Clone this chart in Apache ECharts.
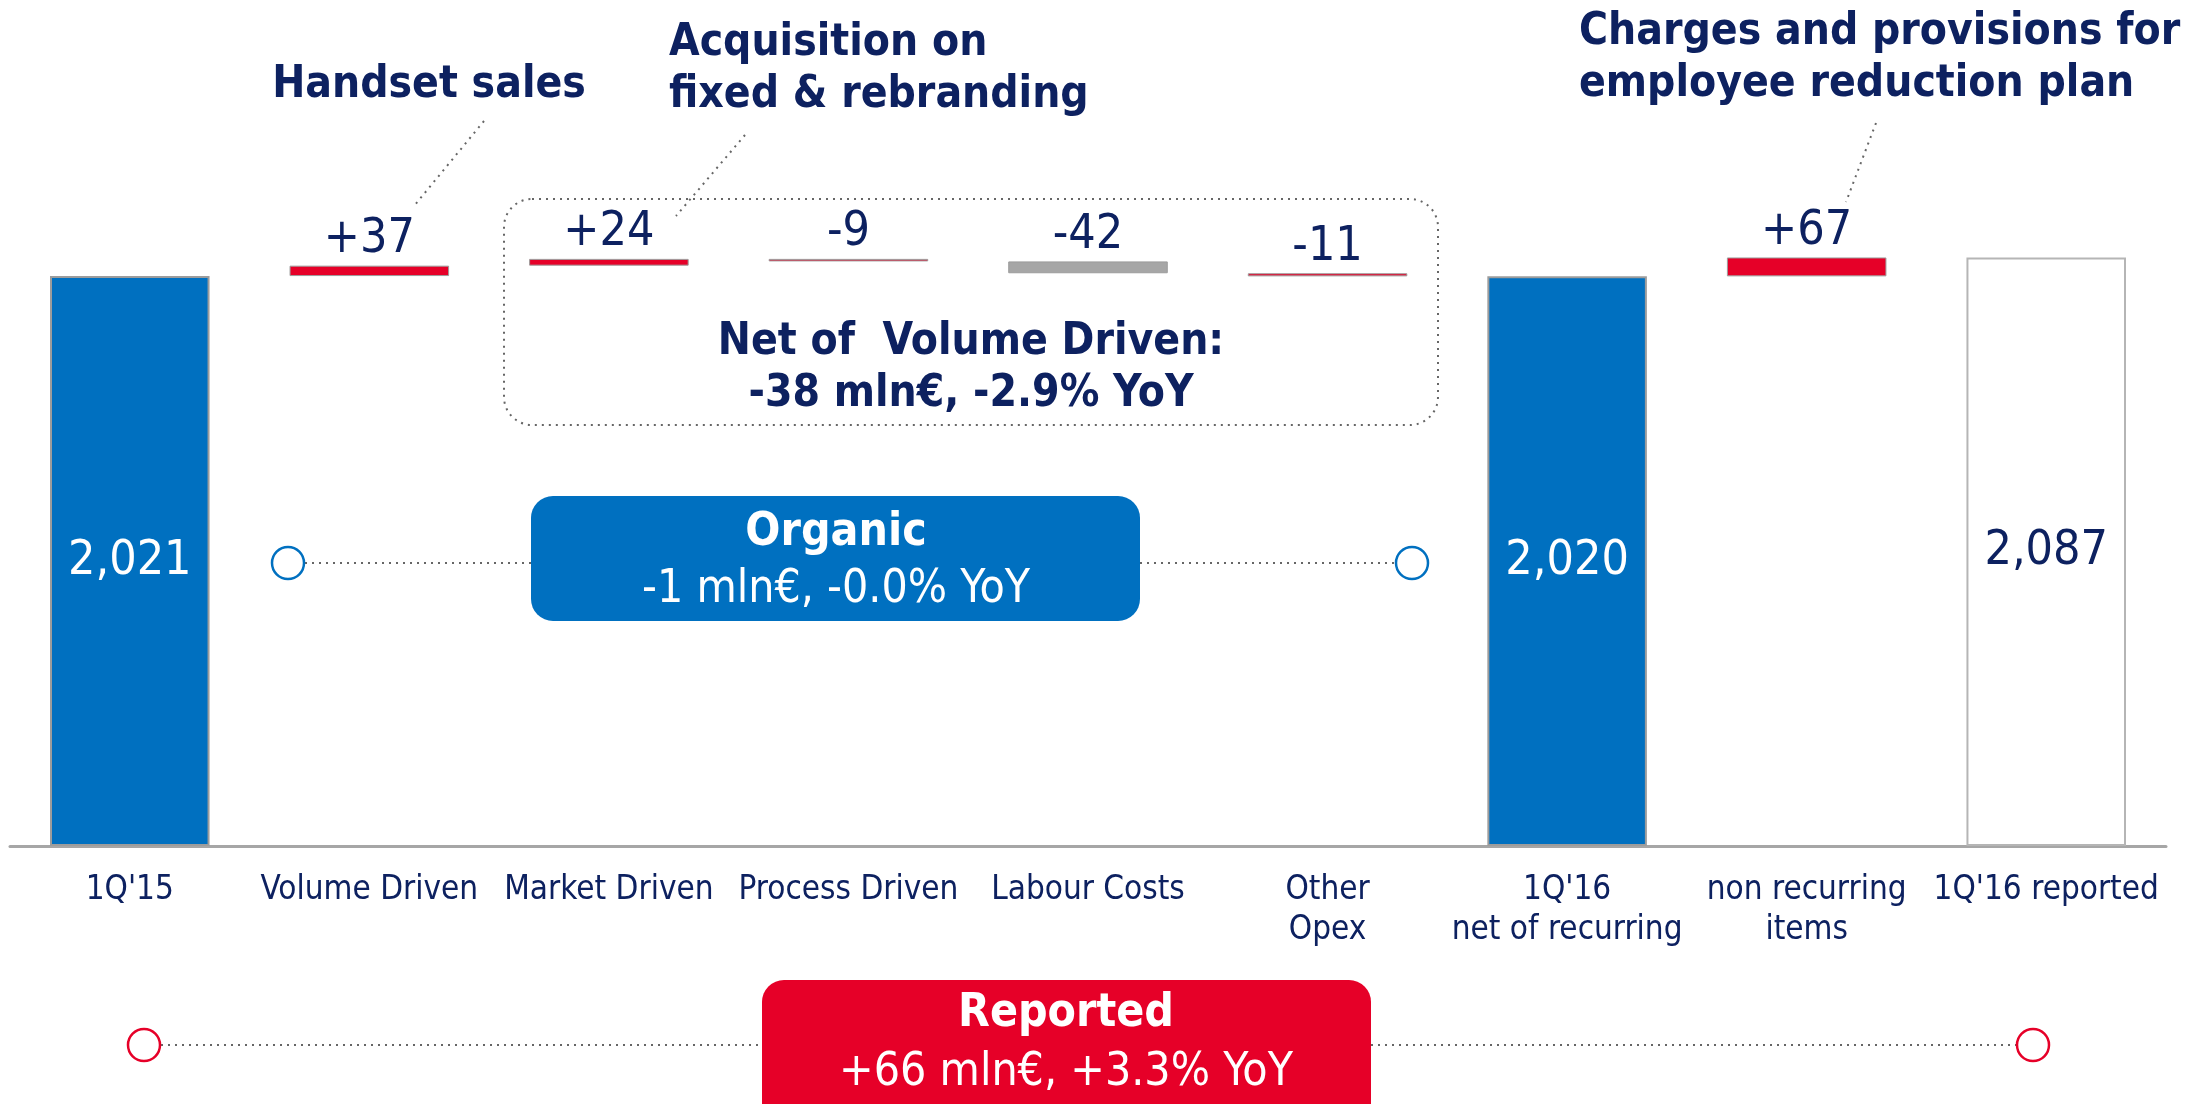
<!DOCTYPE html>
<html>
<head>
<meta charset="utf-8">
<script src="https://cdn.jsdelivr.net/npm/echarts@6/dist/echarts.min.js"></script>
<style>
  html, body { margin: 0; padding: 0; background: #fff; }
  #chart { width: 2185px; height: 1104px; }
</style>
</head>
<body>
<div id="chart"></div>
<script>
// categories and bridge steps (mln€)
var categories = ["1Q'15", 'Volume Driven', 'Market Driven', 'Process Driven', 'Labour Costs',
    'Other\nOpex', "1Q'16\nnet of recurring", 'non recurring\nitems', "1Q'16 reported"];
var steps = [2021, 37, 24, -9, -42, -11, 2020, 67, 2087];
var isTotal = [true, false, false, false, false, false, true, false, true];
var barColors = ['#0070C0', '#E60028', '#E60028', '#E60028', '#A6A6A6', '#E60028', '#0070C0', '#E60028', '#FFFFFF'];

var NAVY = '#0D2160';
var FONT = "'Liberation Sans Narrow', 'DejaVu Sans Condensed', 'Noto Sans', sans-serif";

// invisible base + visible part of each bar
var baseData = [];
var barData = [];
var running = 0;
for (var i = 0; i < steps.length; i++) {
    var v = steps[i];
    var total = isTotal[i];
    var base, h;
    if (total) {
        base = 0;
        h = v;
        running = v;
    } else {
        base = v >= 0 ? running : running + v;
        h = Math.abs(v);
        running += v;
    }
    baseData.push(base);
    var lbl = total ? v.toLocaleString('en-US') : (v > 0 ? '+' + v : String(v));
    barData.push({
        value: h,
        itemStyle: {
            color: barColors[i],
            borderColor: total && barColors[i] === '#FFFFFF' ? '#B5B5B5' : '#9C9C9C',
            borderWidth: total ? 2 : 1
        },
        label: {
            show: true,
            formatter: lbl,
            position: total ? 'inside' : 'top',
            distance: 2,
            color: total && barColors[i] !== '#FFFFFF' ? '#FFFFFF' : NAVY,
            fontSize: 48,
            fontFamily: FONT
        }
    });
}

var dotted = {stroke: '#666', lineWidth: 2, lineDash: [2, 5], fill: null};

function txt(x, y, s, size, weight, color, align) {
    return {
        type: 'text', x: x, y: y, z: 20,
        style: {
            text: s, fontSize: size, fontWeight: weight, fill: color, fontFamily: FONT,
            textAlign: align || 'center', textVerticalAlign: 'middle', lineHeight: 52
        }
    };
}

var chart = echarts.init(document.getElementById('chart'));
var option = {
    animation: false,
    grid: {left: 10, right: 19, top: 0, bottom: 258},
    xAxis: {
        type: 'category',
        data: categories,
        axisLine: {lineStyle: {color: '#A6A6A6', width: 3}},
        axisTick: {show: false},
        axisLabel: {color: NAVY, fontSize: 33, lineHeight: 40, margin: 24, fontFamily: FONT, interval: 0}
    },
    yAxis: {type: 'value', min: 0, max: 3000, show: false},
    series: [
        {
            type: 'bar', stack: 'w', barWidth: '66.6%', silent: true,
            itemStyle: {color: 'transparent'},
            data: baseData
        },
        {
            type: 'bar', stack: 'w', barWidth: '66.6%',
            data: barData
        }
    ],
    graphic: [
        // top callouts
        txt(429, 86, 'Handset sales', 44, 'bold', NAVY),
        txt(669, 70, 'Acquisition on\nfixed & rebranding', 44, 'bold', NAVY, 'left'),
        txt(1579, 59, 'Charges and provisions for\nemployee reduction plan', 44, 'bold', NAVY, 'left'),
        {type: 'line', shape: {x1: 484, y1: 121, x2: 414, y2: 206}, style: dotted},
        {type: 'line', shape: {x1: 745, y1: 135, x2: 676, y2: 216}, style: dotted},
        {type: 'line', shape: {x1: 1876, y1: 123, x2: 1846, y2: 202}, style: dotted},

        // net of volume driven box
        {type: 'rect', shape: {x: 504, y: 199, width: 934, height: 226, r: 28}, style: dotted},
        txt(971, 369, 'Net of  Volume Driven:\n-38 mln€, -2.9% YoY', 44, 'bold', NAVY),

        // organic
        {type: 'line', shape: {x1: 305, y1: 563, x2: 531, y2: 563}, style: dotted},
        {type: 'line', shape: {x1: 1140, y1: 563, x2: 1395, y2: 563}, style: dotted},
        {type: 'circle', shape: {cx: 288, cy: 563, r: 16}, style: {fill: '#fff', stroke: '#0070C0', lineWidth: 2.5}},
        {type: 'circle', shape: {cx: 1412, cy: 563, r: 16}, style: {fill: '#fff', stroke: '#0070C0', lineWidth: 2.5}},
        {type: 'rect', shape: {x: 531, y: 496, width: 609, height: 125, r: 22}, style: {fill: '#0070C0'}},
        txt(836, 533, 'Organic', 46, 'bold', '#FFFFFF'),
        txt(836, 590, '-1 mln€, -0.0% YoY', 46, 'normal', '#FFFFFF'),

        // reported
        {type: 'line', shape: {x1: 161, y1: 1045, x2: 762, y2: 1045}, style: dotted},
        {type: 'line', shape: {x1: 1371, y1: 1045, x2: 2016, y2: 1045}, style: dotted},
        {type: 'circle', shape: {cx: 144, cy: 1045, r: 16}, style: {fill: '#fff', stroke: '#E60028', lineWidth: 2.5}},
        {type: 'circle', shape: {cx: 2033, cy: 1045, r: 16}, style: {fill: '#fff', stroke: '#E60028', lineWidth: 2.5}},
        {type: 'rect', shape: {x: 762, y: 980, width: 609, height: 150, r: 22}, style: {fill: '#E60028'}},
        txt(1066, 1014, 'Reported', 46, 'bold', '#FFFFFF'),
        txt(1066, 1073, '+66 mln€, +3.3% YoY', 46, 'normal', '#FFFFFF')
    ]
};
chart.setOption(option);
</script>
</body>
</html>
